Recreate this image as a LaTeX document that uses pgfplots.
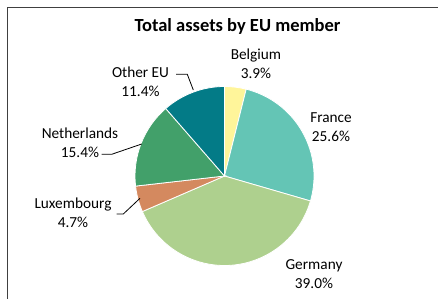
\documentclass[border=0pt]{standalone}
\usepackage{pgfplots}
\pgfplotsset{compat=1.18}
\usepackage{fontspec}
\setmainfont{Carlito}
\definecolor{bel}{HTML}{FFF59A}
\definecolor{fra}{HTML}{64C5B5}
\definecolor{ger}{HTML}{AED08E}
\definecolor{lux}{HTML}{D4895F}
\definecolor{ned}{HTML}{42A06A}
\definecolor{oth}{HTML}{037B87}
\definecolor{framec}{HTML}{404040}
% shares (percent), clockwise from 12 o'clock
\def\sBel{3.9}\def\sFra{25.6}\def\sGer{39.0}\def\sLux{4.7}\def\sNed{15.4}\def\sOth{11.4}
\begin{document}
\begin{tikzpicture}
\begin{axis}[x=1pt,y=1pt,xmin=0,xmax=438,ymin=0,ymax=299,hide axis,clip=false,
  at={(0,0)},anchor=south west,scale only axis]
\draw[framec,line width=1pt] (axis cs:7.5,0) -- (axis cs:7.5,291.5) -- (axis cs:438,291.5);
\def\cx{224.5}\def\cy{123}\def\R{89.5pt}
\filldraw[fill=bel,draw=white,line width=0.8pt] (axis cs:\cx,\cy) -- ++(90:\R) arc[start angle=90,end angle={90-3.6*\sBel},radius=\R] -- cycle;
\filldraw[fill=fra,draw=white,line width=0.8pt] (axis cs:\cx,\cy) -- ++({90-3.6*\sBel}:\R) arc[start angle={90-3.6*\sBel},end angle={90-3.6*(\sBel+\sFra)},radius=\R] -- cycle;
\filldraw[fill=ger,draw=white,line width=0.8pt] (axis cs:\cx,\cy) -- ++({90-3.6*(\sBel+\sFra)}:\R) arc[start angle={90-3.6*(\sBel+\sFra)},end angle={90-3.6*(\sBel+\sFra+\sGer)},radius=\R] -- cycle;
\filldraw[fill=lux,draw=white,line width=0.8pt] (axis cs:\cx,\cy) -- ++({90-3.6*(\sBel+\sFra+\sGer)}:\R) arc[start angle={90-3.6*(\sBel+\sFra+\sGer)},end angle={90-3.6*(\sBel+\sFra+\sGer+\sLux)},radius=\R] -- cycle;
\filldraw[fill=ned,draw=white,line width=0.8pt] (axis cs:\cx,\cy) -- ++({90-3.6*(\sBel+\sFra+\sGer+\sLux)}:\R) arc[start angle={90-3.6*(\sBel+\sFra+\sGer+\sLux)},end angle={90-3.6*(\sBel+\sFra+\sGer+\sLux+\sNed)},radius=\R] -- cycle;
\filldraw[fill=oth,draw=white,line width=0.8pt] (axis cs:\cx,\cy) -- ++({90-3.6*(\sBel+\sFra+\sGer+\sLux+\sNed)}:\R) arc[start angle={90-3.6*(\sBel+\sFra+\sGer+\sLux+\sNed)},end angle={-270},radius=\R] -- cycle;
% leader lines
\draw[black,line width=0.8pt] (axis cs:176,224.7) -- (axis cs:187.3,224.7) -- (axis cs:193.3,209);
\draw[black,line width=0.8pt] (axis cs:101.7,144.7) -- (axis cs:111.7,144.7) -- (axis cs:141.7,155);
\draw[black,line width=0.8pt] (axis cs:116.7,85) -- (axis cs:123.3,85) -- (axis cs:140,100.7);
% title and labels
\node[font=\bfseries\fontsize{18.5}{22}\selectfont] at (axis cs:237.5,272.3) {Total assets by EU member};
\tikzset{lab/.style={font=\fontsize{15.3}{19}\selectfont,align=center,inner sep=0pt}}
\node[lab] at (axis cs:256,235.5) {Belgium\\3.9\%};
\node[lab] at (axis cs:331,171.5) {France\\25.6\%};
\node[lab] at (axis cs:314,24.5) {Germany\\39.0\%};
\node[lab] at (axis cs:73,86.5) {Luxembourg\\4.7\%};
\node[lab] at (axis cs:80,156) {Netherlands\\15.4\%};
\node[lab] at (axis cs:140.5,217.6) {Other EU\\11.4\%};
\end{axis}
\pgfresetboundingbox
\useasboundingbox (0,0) rectangle (438pt,299pt);
\end{tikzpicture}
\end{document}
